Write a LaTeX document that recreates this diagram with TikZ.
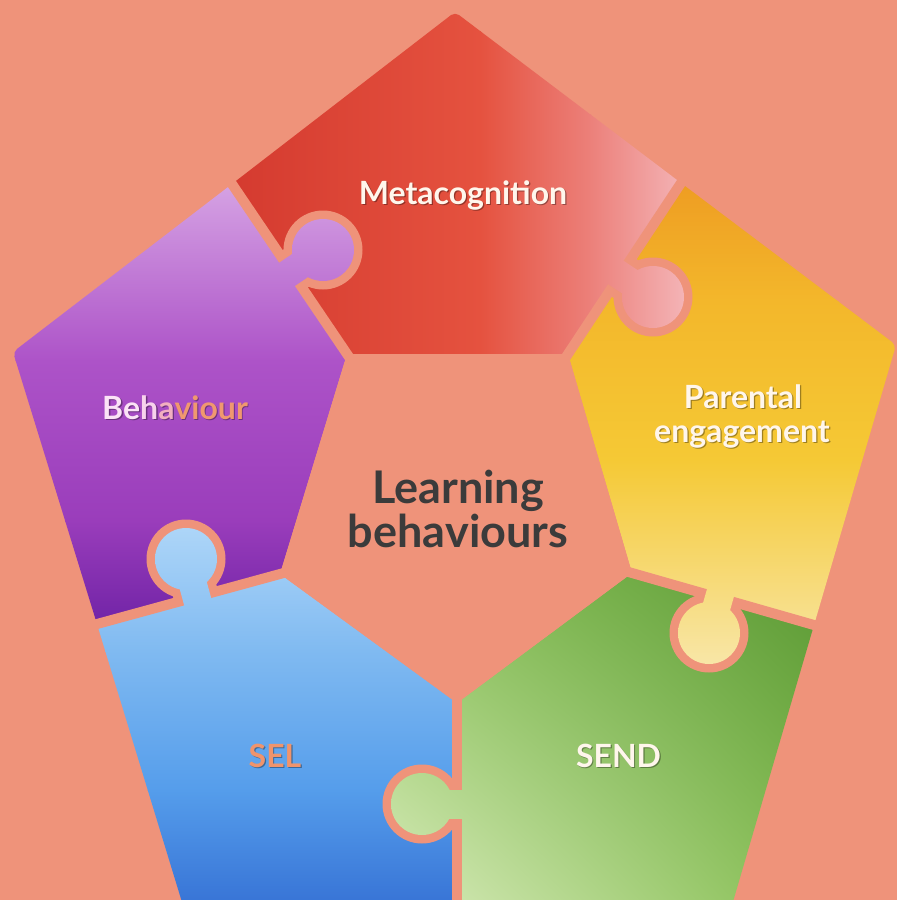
\documentclass[tikz,border=0pt]{standalone}
\usepackage{fontspec}
\setmainfont{Lato}
\usetikzlibrary{calc,shadings}
\definecolor{bgc}{HTML}{EF937A}
\definecolor{rA}{HTML}{D43A2F}
\definecolor{rB}{HTML}{E5523F}
\definecolor{rC}{HTML}{EC807A}
\definecolor{rD}{HTML}{F5BCC0}
\definecolor{pA}{HTML}{D6A4E4}
\definecolor{pB}{HTML}{AD53C8}
\definecolor{pC}{HTML}{9A3DBB}
\definecolor{pD}{HTML}{6E22A5}
\definecolor{yA}{HTML}{EE9C22}
\definecolor{yB}{HTML}{F3B72B}
\definecolor{yC}{HTML}{F5C935}
\definecolor{yD}{HTML}{F8E7AA}
\definecolor{bA}{HTML}{AED6F8}
\definecolor{bB}{HTML}{80BAF1}
\definecolor{bC}{HTML}{559DEB}
\definecolor{bD}{HTML}{3570D4}
\definecolor{gUL}{HTML}{8CC45A}
\definecolor{gUR}{HTML}{5A9834}
\definecolor{gLL}{HTML}{DCEDC0}
\definecolor{gLR}{HTML}{86BF52}
\definecolor{txtc}{HTML}{3B3B3B}
\definecolor{cream}{HTML}{FFF6EC}
\definecolor{selc}{HTML}{F0946C}
\definecolor{bh1}{HTML}{FBE3F6}
\definecolor{bh2}{HTML}{F7D2EC}
\definecolor{bh3}{HTML}{F2AFC0}
\definecolor{bh4}{HTML}{F0986F}

\newcommand\shadeRed{%
  \shade[left color=rA, right color=rB] (225,5) rectangle (481,360);
  \shade[left color=rB, right color=rC] (480,5) rectangle (591,360);
  \shade[left color=rC, right color=rD] (590,5) rectangle (700,360);}
\newcommand\shadePurple{%
  \shade[top color=pA, bottom color=pB] (5,180) rectangle (360,361);
  \shade[top color=pB, bottom color=pC] (5,360) rectangle (360,521);
  \shade[top color=pC, bottom color=pD] (5,520) rectangle (360,632);}
\newcommand\shadeYellow{%
  \shade[top color=yA, bottom color=yB] (560,178) rectangle (900,301);
  \shade[top color=yB, bottom color=yC] (560,300) rectangle (900,461);
  \shade[top color=yC, bottom color=yD] (560,460) rectangle (900,670);}
\newcommand\shadeBlue{%
  \shade[top color=bA, bottom color=bB] (90,525) rectangle (462,651);
  \shade[top color=bB, bottom color=bC] (90,650) rectangle (462,791);
  \shade[top color=bC, bottom color=bD] (90,790) rectangle (462,915);}
\newcommand\shadeGreen{%
  \shade[upper left=gUL, upper right=gUR, lower left=gLL, lower right=gLR] (385,568) rectangle (822,915);}

\newcommand\knob[4]{%
  \coordinate (kF) at ($(#2)!(#1)!(#3)$);
  \coordinate (kG) at ($(#1)!1.35!(kF)$);
  \fill[bgc] (#1) circle[radius=39.5pt];
  \fill[bgc, rounded corners=3pt] ($(#1)!22.5pt!90:(kF)$) -- ($(kF)!22.5pt!-90:(#1)$) -- ($(kF)!22.5pt!90:(#1)$) -- ($(#1)!22.5pt!-90:(kF)$) -- cycle;
  \begin{scope}\clip (#1) circle[radius=31pt]; #4\end{scope}
  \begin{scope}\clip ($(#1)!14pt!90:(kG)$) -- ($(kG)!14pt!-90:(#1)$) -- ($(kG)!14pt!90:(#1)$) -- ($(#1)!14pt!-90:(kG)$) -- cycle; #4\end{scope}}

\tikzset{
  lblf/.style={font=\fontsize{32}{32}\selectfont\bfseries, inner sep=0pt, anchor=base},
  shd/.style={text=black, opacity=.35},
  ctrf/.style={font=\fontsize{45}{45}\selectfont\bfseries, inner sep=0pt, anchor=base, text=txtc},
  gapline/.style={draw=bgc, line width=10pt}
}

\begin{document}
\begin{tikzpicture}[x=1pt,y=-1pt]
\useasboundingbox (0,0) rectangle (897,900);
\clip (0,0) rectangle (897,900);
\fill[bgc] (0,0) rectangle (897,900);

% outer and inner points
\coordinate (T) at (455,12);
\coordinate (R) at (896,345);
\coordinate (BR) at (730,912);
\coordinate (BL) at (185,912);
\coordinate (L) at (13,352);
\coordinate (A) at (347,354);
\coordinate (B) at (568,354);
\coordinate (C) at (632,573);
\coordinate (D) at (457,703);
\coordinate (E) at (280,574);
\coordinate (DTL) at (232,184);
\coordinate (DTR) at (681,183);
\coordinate (DR) at (814,625);
\coordinate (DB) at (457,912);
\coordinate (DBL) at (97,624);
% knob centres
\coordinate (k1) at (323,250);
\coordinate (k2) at (653,297);
\coordinate (k3) at (709,633);
\coordinate (k4) at (422,804);
\coordinate (k5) at (186,559);

% pieces
\begin{scope}
  \clip[rounded corners=5pt] (T) -- (DTL) -- (A) -- (B) -- (DTR) -- cycle;
  \shadeRed
\end{scope}
\begin{scope}
  \clip[rounded corners=5pt] (DTR) -- (B) -- (C) -- (DR) -- (R) -- cycle;
  \shadeYellow
\end{scope}
\begin{scope}
  \clip[rounded corners=5pt] (DR) -- (C) -- (D) -- (DB) -- (BR) -- cycle;
  \shadeGreen
\end{scope}
\begin{scope}
  \clip[rounded corners=5pt] (DB) -- (D) -- (E) -- (DBL) -- (BL) -- cycle;
  \shadeBlue
\end{scope}
\begin{scope}
  \clip[rounded corners=5pt] (DBL) -- (E) -- (A) -- (DTL) -- (L) -- cycle;
  \shadePurple
\end{scope}

% centre and gaps
\fill[bgc] (A) -- (B) -- (C) -- (D) -- (E) -- cycle;
\draw[gapline] ($(A)!-12pt!(DTL)$) -- ($(DTL)!-15pt!(A)$);
\draw[gapline] ($(B)!-12pt!(DTR)$) -- ($(DTR)!-15pt!(B)$);
\draw[gapline] ($(C)!-12pt!(DR)$) -- ($(DR)!-15pt!(C)$);
\draw[gapline] ($(D)!-12pt!(DB)$) -- ($(DB)!-15pt!(D)$);
\draw[gapline] ($(E)!-12pt!(DBL)$) -- ($(DBL)!-15pt!(E)$);

% knobs
\knob{k1}{A}{DTL}{\shadePurple}
\knob{k2}{B}{DTR}{\shadeRed}
\knob{k3}{C}{DR}{\shadeYellow}
\knob{k4}{D}{DB}{\shadeGreen}
\knob{k5}{E}{DBL}{\shadeBlue}

% labels
\node[lblf, shd] (meta-s) at (464.2,205.6) {Metacognition};
\node[lblf, text=cream] (meta) at (463,204) {Metacognition};
\node[lblf, shd] (beh-s) at (176.2,420.6) {Behaviour};
\node[lblf] (beh) at (175,419) {\color{bh1}B\color{bh1}e\color{bh2}h\color{bh3}a\color{bh4}viour};
\node[lblf, shd] (par-s) at (744.2,409.6) {Parental};
\node[lblf, text=cream] (par) at (743,408) {Parental};
\node[lblf, shd] (eng-s) at (743.2,443.6) {engagement};
\node[lblf, text=cream] (eng) at (742,442) {engagement};
\node[lblf, shd] (sel-s) at (276.2,768.6) {SEL};
\node[lblf, text=selc] (sel) at (275,767) {SEL};
\node[lblf, shd] (send-s) at (619.7,768.6) {SEND};
\node[lblf, text=cream] (send) at (618.5,767) {SEND};
\node[ctrf] (lb1) at (458,503) {Learning};
\node[ctrf] (lb2) at (458,547) {behaviours};
\end{tikzpicture}
\end{document}
